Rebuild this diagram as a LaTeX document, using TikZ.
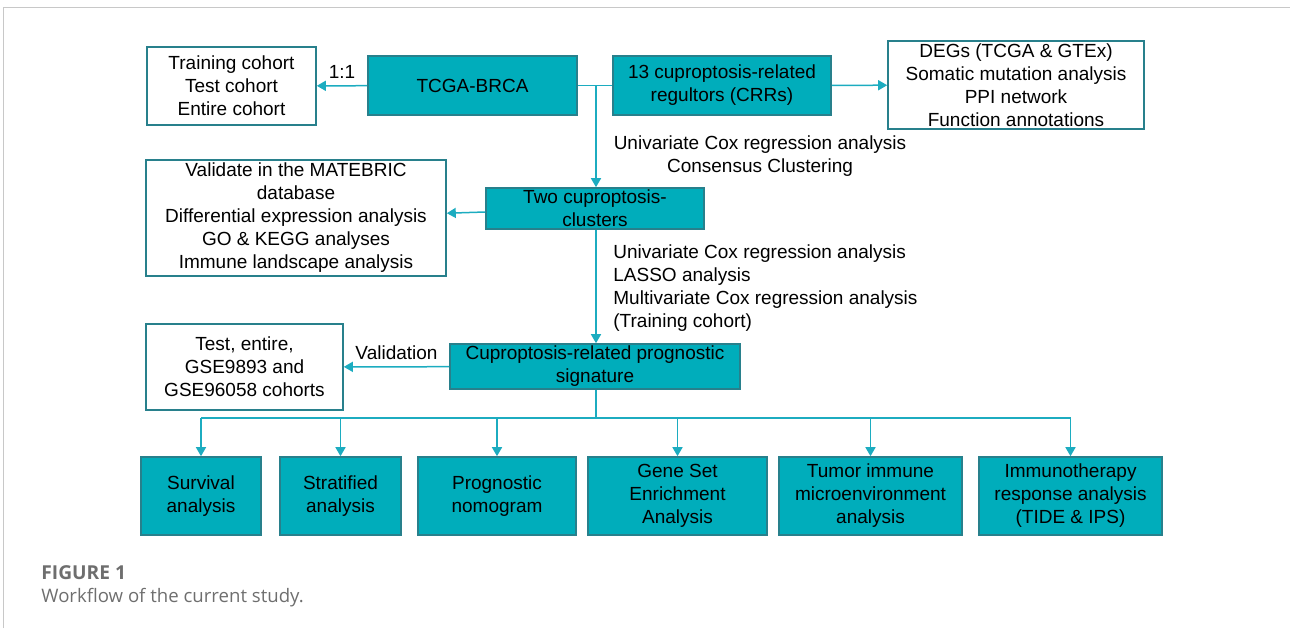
\documentclass[tikz,border=0pt]{standalone}
\usepackage{fontspec}
\setmainfont{Liberation Sans}
\newfontfamily\capfont{Open Sans}
\usetikzlibrary{arrows.meta}
\definecolor{tealfill}{RGB}{0,173,187}
\definecolor{tealedge}{RGB}{40,128,140}
\definecolor{flowline}{RGB}{28,172,192}
\definecolor{capgray}{RGB}{110,110,110}
\definecolor{framegray}{RGB}{200,200,200}
\tikzset{
  tealbox/.style={draw=tealedge, fill=tealfill, line width=0.8pt, align=center, inner sep=0pt},
  whitebox/.style={draw=tealedge, fill=white, line width=0.8pt, align=center, inner sep=0pt},
  flow/.style={draw=flowline, line width=0.75pt},
  flowarrow/.style={flow, -{Triangle[width=5pt,length=4.5pt]}},
}

\begin{document}
\begin{tikzpicture}[x=0.5pt, y=-0.5pt, font=\fontsize{9.5}{11.5}\selectfont]
  \useasboundingbox (0,0) rectangle (1290,628);
  \draw[framegray, line width=0.8pt] (3.5,628) -- (3.5,7.5) -- (1290,7.5);
  % top row
  \node[whitebox, minimum width=84.5pt, minimum height=39pt] (train) at (231.5,86) {Training cohort\\Test cohort\\Entire cohort};
  \node[tealbox, minimum width=104.5pt, minimum height=29.5pt] (tcga) at (472.5,85.5) {TCGA-BRCA};
  \node[tealbox, minimum width=109pt, minimum height=29.5pt] (crr) at (722,85.5) {13 cuproptosis-related\\regultors (CRRs)};
  \node[whitebox, minimum width=128pt, minimum height=44pt] (deg) at (1016,85) {DEGs (TCGA \& GTEx)\\Somatic mutation analysis\\PPI network\\Function annotations};
  % middle
  \node[tealbox, minimum width=109pt, minimum height=20.5pt] (clus) at (595,208.5) {Two cuproptosis-\\clusters};
  \node[whitebox, minimum width=150pt, minimum height=58pt] (valid) at (296,218) {Validate in the MATEBRIC\\database\\Differential expression analysis\\GO \& KEGG analyses\\Immune landscape analysis};
  \node[tealbox, minimum width=145pt, minimum height=22.5pt] (sig) at (595,366.5) {Cuproptosis-related prognostic\\signature};
  \node[whitebox, minimum width=98.5pt, minimum height=43pt] (test) at (244.5,367) {Test, entire,\\GSE9893 and\\GSE96058 cohorts};
  % bottom row
  \node[tealbox, minimum width=60pt, minimum height=39pt] (surv) at (201,496) {Survival\\analysis};
  \node[tealbox, minimum width=60.5pt, minimum height=39pt] (strat) at (340.5,496) {Stratified\\analysis};
  \node[tealbox, minimum width=79pt, minimum height=39pt] (nomo) at (497,496) {Prognostic\\nomogram};
  \node[tealbox, minimum width=89.5pt, minimum height=39pt] (gsea) at (677.5,496) {Gene Set\\Enrichment\\Analysis};
  \node[tealbox, minimum width=91.5pt, minimum height=39pt] (tme) at (870.5,496) {Tumor immune\\microenvironment\\analysis};
  \node[tealbox, minimum width=91.5pt, minimum height=39pt] (immu) at (1070.5,496) {Immunotherapy\\response analysis\\(TIDE \& IPS)};
  % connectors
  \coordinate (junc) at (596,86);
  \coordinate (bus) at (596,418);
  \draw[flowarrow] (tcga) -- node[above, black] {1:1} (train);
  \draw[flow] (tcga) -- (crr);
  \draw[flowarrow] (crr) -- (deg);
  \draw[flowarrow] (junc) -- (junc |- clus.north);
  \draw[flowarrow] (clus) -- (valid);
  \draw[flowarrow] (junc |- clus.south) -- (junc |- sig.north);
  \draw[flowarrow] (sig) -- node[above, black] {Validation} (test);
  \draw[flow] (junc |- sig.south) -- (bus);
  \draw[flow] (surv.north |- bus) -- (immu.north |- bus);
  \foreach \b in {surv,strat,nomo,gsea,tme,immu}
    \draw[flowarrow] (\b.north |- bus) -- (\b.north);
  % labels
  \node[align=center] (lbla) at (760,156) {Univariate Cox regression analysis\\Consensus Clustering};
  \node[align=left, anchor=west, inner sep=0pt] (lblb) at (613,288) {Univariate Cox regression analysis\\LASSO analysis\\Multivariate Cox regression analysis\\(Training cohort)};
  % caption
  \node[anchor=west, inner sep=0pt, text=capgray, font=\capfont\bfseries\fontsize{9.6}{12}\selectfont] (fig) at (41,573) {FIGURE 1};
  \node[anchor=west, inner sep=0pt, text=capgray, font=\capfont\fontsize{9.3}{12}\selectfont] (cap) at (41,598) {Workflow of the current study.};
\end{tikzpicture}
\end{document}
